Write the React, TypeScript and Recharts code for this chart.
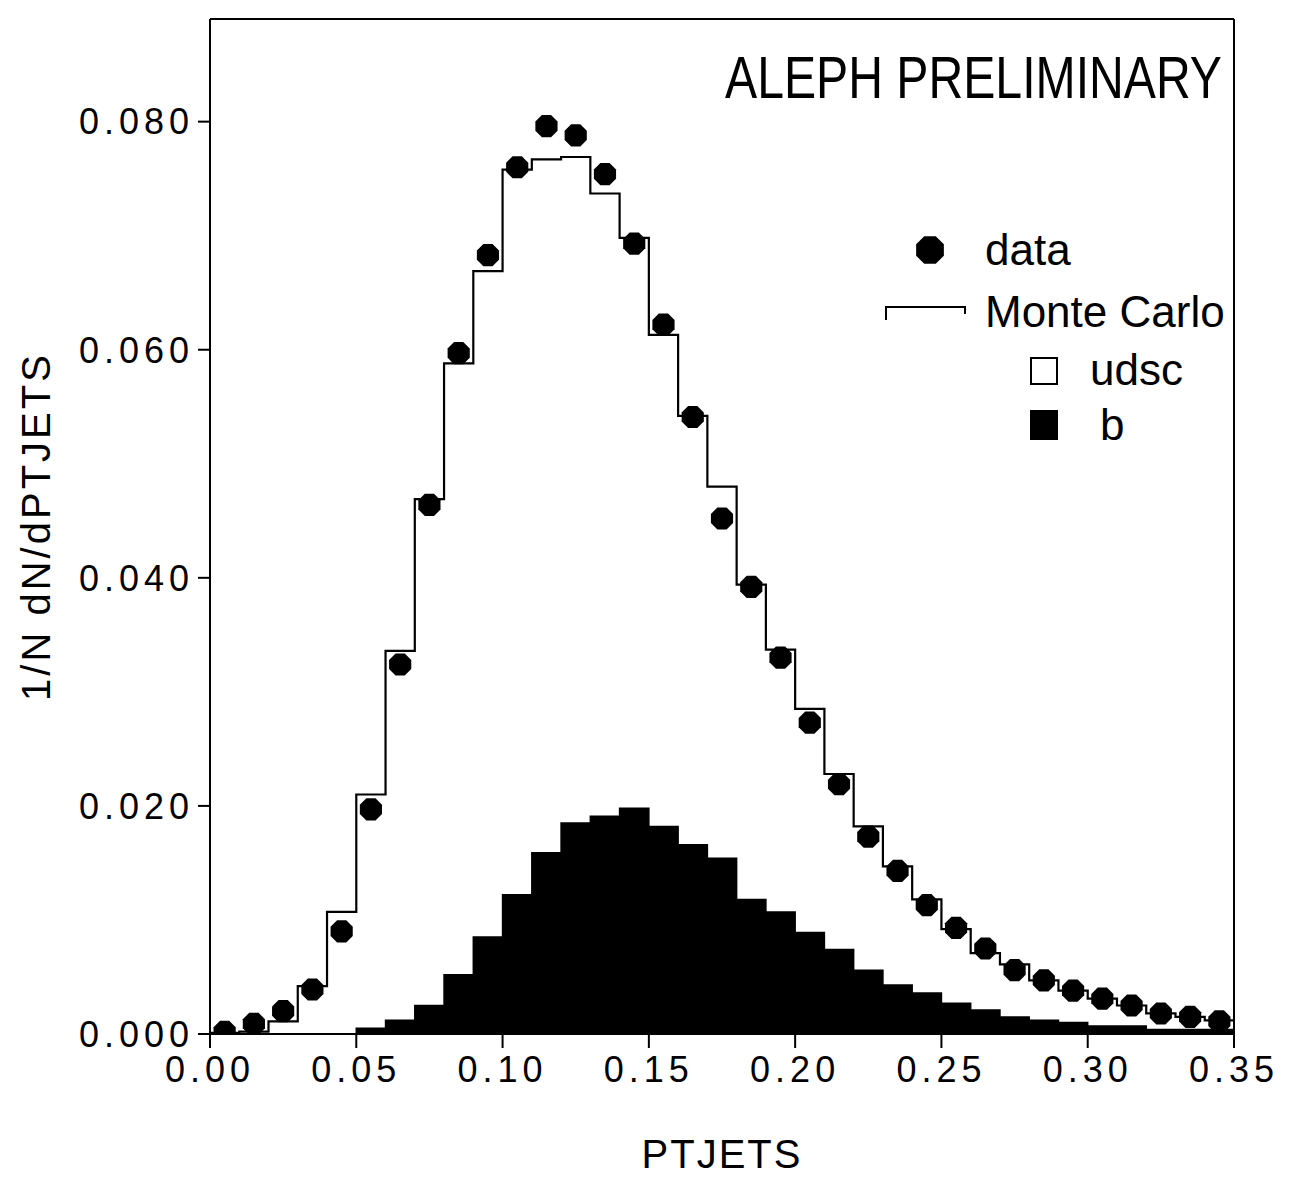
import { Area, ComposedChart, Label, Legend, Line, ReferenceLine, Scatter, XAxis, YAxis } from "recharts";

// bin edges and centres of the PTJETS histogram (0.01 wide bins)
const binEdges = [
  0.0, 0.01, 0.02, 0.03, 0.04, 0.05, 0.06, 0.07, 0.08, 0.09, 0.1, 0.11, 0.12, 0.13, 0.14, 0.15, 0.16, 0.17,
  0.18, 0.19, 0.2, 0.21, 0.22, 0.23, 0.24, 0.25, 0.26, 0.27, 0.28, 0.29, 0.3, 0.31, 0.32, 0.33, 0.34, 0.35,
];
const binCenters = [
  0.005, 0.015, 0.025, 0.035, 0.045, 0.055, 0.065, 0.075, 0.085, 0.095, 0.105, 0.115, 0.125, 0.135, 0.145,
  0.155, 0.165, 0.175, 0.185, 0.195, 0.205, 0.215, 0.225, 0.235, 0.245, 0.255, 0.265, 0.275, 0.285, 0.295,
  0.305, 0.315, 0.325, 0.335, 0.345,
];

const dataValues = [
  0.0002, 0.0009, 0.002, 0.0039, 0.009, 0.0197, 0.0324, 0.0464, 0.0597, 0.0683, 0.076, 0.0796, 0.0788,
  0.0754, 0.0693, 0.0622, 0.0541, 0.0452, 0.0392, 0.033, 0.0273, 0.0219, 0.0173, 0.0143, 0.0113, 0.0093,
  0.0075, 0.0056, 0.0047, 0.0038, 0.0031, 0.0025, 0.0018, 0.0015, 0.0011,
];

const monteCarlo = [
  0.0001, 0.0002, 0.0011, 0.0042, 0.0107, 0.021, 0.0336, 0.0469, 0.0588, 0.0669, 0.0758, 0.0767, 0.0769,
  0.0737, 0.0698, 0.0613, 0.0542, 0.048, 0.0394, 0.0337, 0.0285, 0.0228, 0.0182, 0.0147, 0.0118, 0.0092,
  0.0071, 0.0061, 0.0047, 0.0038, 0.0031, 0.0025, 0.0018, 0.0015, 0.0012,
];

const bQuark = [
  0, 0, 0, 0, 0, 0.0005, 0.0012, 0.0025, 0.0052, 0.0085, 0.0122, 0.0159, 0.0185, 0.0191, 0.0198, 0.0182,
  0.0166, 0.0154, 0.0118, 0.0107, 0.0089, 0.0074, 0.0056, 0.0043, 0.0036, 0.0027, 0.0021, 0.0015, 0.0012,
  0.001, 0.0007, 0.0007, 0.0004, 0.0004, 0.0004,
];

const xTicks = [0, 0.05, 0.1, 0.15, 0.2, 0.25, 0.3, 0.35];
const yTicks = [0, 0.02, 0.04, 0.06, 0.08];
const X_MAX = 0.35;
const Y_MAX = 0.089;

const last = monteCarlo.length - 1;
const histRows = binEdges.map((x, i) => ({
  x,
  mc: monteCarlo[Math.min(i, last)],
  b: bQuark[Math.min(i, last)],
}));
const pointRows = binCenters.map((x, i) => ({ x, data: dataValues[i] }));

const FONT = '"Liberation Sans", Arial, sans-serif';

function octagonPoints(cx: number, cy: number, r: number) {
  const pts: string[] = [];
  for (let k = 0; k < 8; k++) {
    const a = ((22.5 + 45 * k) * Math.PI) / 180;
    pts.push(`${cx + r * Math.cos(a)},${cy + r * Math.sin(a)}`);
  }
  return pts.join(" ");
}

function DataMarker(props: any) {
  const { cx, cy } = props;
  if (cx == null || cy == null) return null;
  return <polygon points={octagonPoints(cx, cy, 12)} fill="#000" />;
}

function LegendBox() {
  const text = { fontFamily: FONT, fontSize: 44, fill: "#000" } as const;
  return (
    <svg width={1290} height={470} style={{ display: "block" }}>
      <text
        x={0}
        y={0}
        transform="translate(725, 98) scale(1, 1.18)"
        textLength={497}
        lengthAdjust="spacingAndGlyphs"
        style={{ ...text, fontSize: 50 }}
      >
        ALEPH PRELIMINARY
      </text>
      <polygon points={octagonPoints(930, 250, 15)} fill="#000" />
      <text x={985} y={265} style={text}>data</text>
      <polyline points="886,320 886,307 965,307 965,314" fill="none" stroke="#000" strokeWidth={2} />
      <text x={985} y={327} style={text}>Monte Carlo</text>
      <rect x={1031} y={358} width={26} height={26} fill="none" stroke="#000" strokeWidth={2} />
      <text x={1090} y={385} style={text}>udsc</text>
      <rect x={1030} y={410} width={28} height={30} fill="#000" />
      <text x={1100} y={440} style={text}>b</text>
    </svg>
  );
}

const tickStyle = { fontFamily: FONT, fontSize: 36, fill: "#000", letterSpacing: 5 };

export default function App() {
  return (
    <div style={{ position: "absolute", left: 0, top: 0, width: 1290, height: 1177, background: "#fff" }}>
      <ComposedChart width={1290} height={1177} data={histRows} margin={{ top: 19, right: 56, bottom: 53, left: 10 }}>
        <XAxis
          dataKey="x"
          type="number"
          domain={[0, X_MAX]}
          ticks={xTicks}
          tickFormatter={(v: number) => v.toFixed(2)}
          tick={tickStyle}
          tickSize={14}
          tickMargin={8}
          height={90}
          axisLine={{ stroke: "#000", strokeWidth: 2 }}
          tickLine={{ stroke: "#000", strokeWidth: 2 }}
          allowDataOverflow
        >
          <Label
            content={(p: any) => (
              <text
                x={p.viewBox.x + p.viewBox.width / 2}
                y={p.viewBox.y + 134}
                textAnchor="middle"
                style={{ fontFamily: FONT, fontSize: 40, fill: "#000", letterSpacing: 2 }}
              >
                PTJETS
              </text>
            )}
          />
        </XAxis>
        <YAxis
          type="number"
          domain={[0, Y_MAX]}
          ticks={yTicks}
          tickFormatter={(v: number) => v.toFixed(3)}
          tick={tickStyle}
          tickSize={12}
          tickMargin={4}
          width={200}
          axisLine={{ stroke: "#000", strokeWidth: 2 }}
          tickLine={{ stroke: "#000", strokeWidth: 2 }}
          allowDataOverflow
        >
          <Label
            content={(p: any) => {
              const cx = 50;
              const cy = p.viewBox.y + p.viewBox.height / 2;
              return (
                <text
                  x={cx}
                  y={cy}
                  textAnchor="middle"
                  transform={`rotate(-90, ${cx}, ${cy})`}
                  style={{ fontFamily: FONT, fontSize: 40, fill: "#000", letterSpacing: 3 }}
                >
                  1/N dN/dPTJETS
                </text>
              );
            }}
          />
        </YAxis>
        {/* frame: top and right sides */}
        <ReferenceLine y={Y_MAX} stroke="#000" strokeWidth={2} ifOverflow="visible" />
        <ReferenceLine x={X_MAX} stroke="#000" strokeWidth={2} ifOverflow="visible" />
        <Area
          type="stepAfter"
          dataKey="b"
          fill="#000"
          fillOpacity={1}
          stroke="#000"
          strokeWidth={1.5}
          isAnimationActive={false}
          dot={false}
          activeDot={false}
        />
        <Line
          type="stepAfter"
          dataKey="mc"
          stroke="#000"
          strokeWidth={2.2}
          dot={false}
          activeDot={false}
          isAnimationActive={false}
        />
        <Scatter data={pointRows} dataKey="data" shape={<DataMarker />} isAnimationActive={false} />
        <Legend
          layout="vertical"
          align="center"
          verticalAlign="middle"
          wrapperStyle={{ position: "absolute", left: 0, top: 0, width: 1290, height: 470 }}
          content={() => <LegendBox />}
        />
      </ComposedChart>
    </div>
  );
}
